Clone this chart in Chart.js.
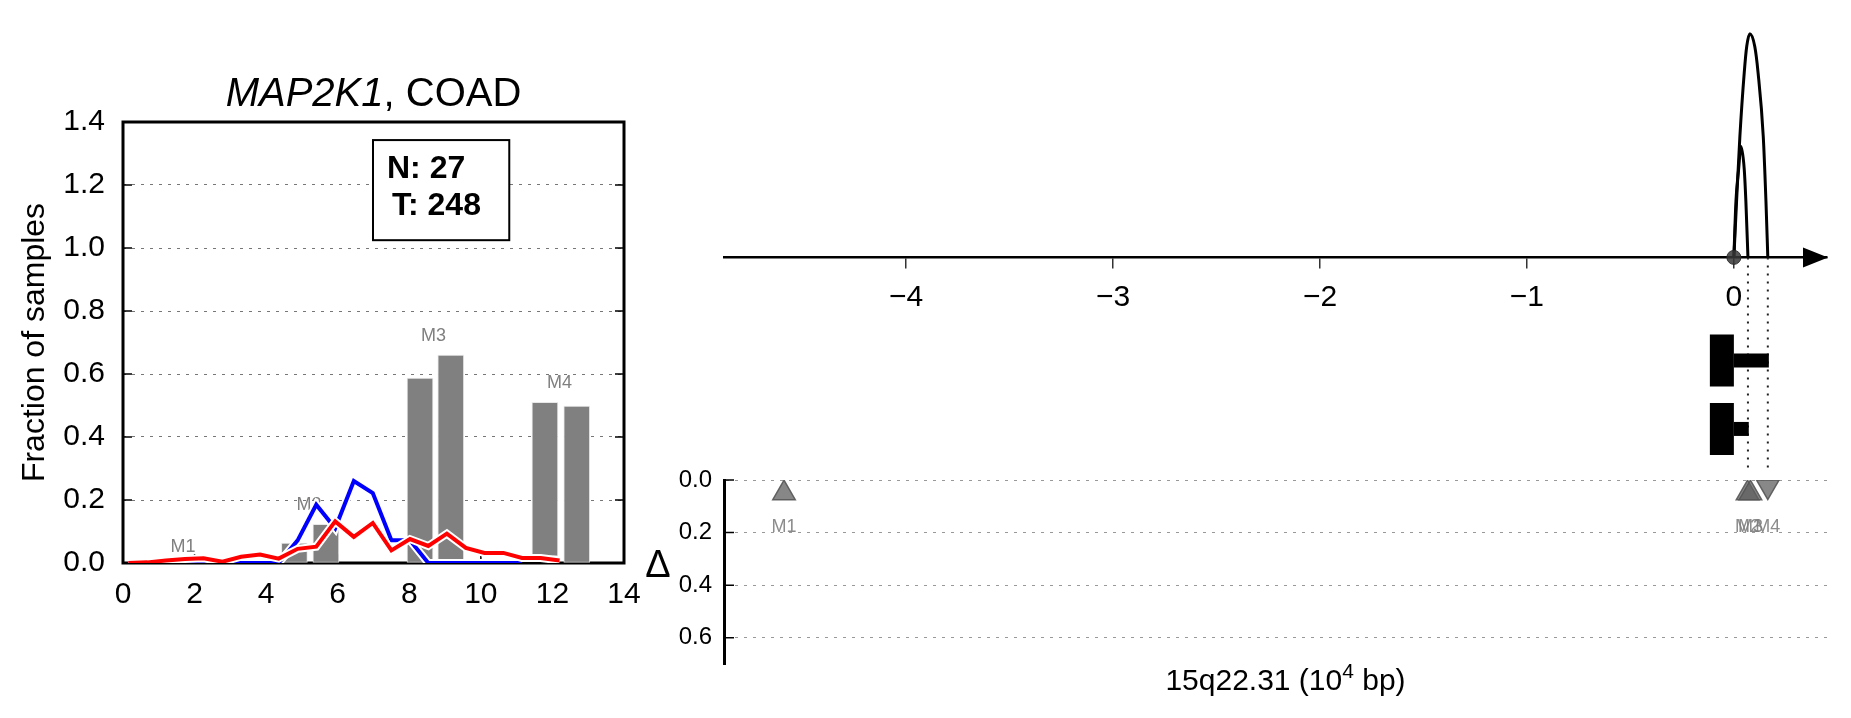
<!DOCTYPE html>
<html>
<head>
<meta charset="utf-8">
<title>MAP2K1, COAD</title>
<script src="https://cdn.jsdelivr.net/npm/chart.js"></script>
<style>
  html, body { margin: 0; padding: 0; background: #fff; }
  #fig { position: relative; width: 1851px; height: 718px; overflow: hidden; background: #fff; }
  canvas { position: absolute; }
  #cFrac { left: 0; top: 0; }
  #cArcs { left: 700px; top: 0; }
  #cDelta { left: 600px; top: 440px; }
</style>
</head>
<body>
<div id="fig">
  <canvas id="cFrac" width="660" height="718"></canvas>
  <canvas id="cArcs" width="1151" height="480"></canvas>
  <canvas id="cDelta" width="1251" height="278"></canvas>
</div>
<script>
// ---------- left panel: fraction of samples ----------
const fracXTicks = [0, 2, 4, 6, 8, 10, 12, 14];
const fracYTicks = [0, 0.2, 0.4, 0.6, 0.8, 1.0, 1.2, 1.4];

// grey bars, two per motif (floating low..high)
const barX    = [4.79, 5.67, 8.30, 9.16, 11.79, 12.68];
const barLow  = [0, 0, 0, 0.01, 0.022, 0];
const barHigh = [0.063, 0.123, 0.587, 0.660, 0.510, 0.498];

const motifNames  = ['M1', 'M2', 'M3', 'M4'];
const motifLabelX = [1.68, 5.2, 8.68, 12.2];
const motifLabelY = [0.05, 0.184, 0.719, 0.572];

// blue and red curves
const curveX = [0.15, 0.68, 1.2, 1.73, 2.25, 2.78, 3.3, 3.83, 4.35, 4.88, 5.4, 5.93,
                6.45, 6.98, 7.5, 8.02, 8.53, 9.05, 9.58, 10.1, 10.63, 11.15, 11.67, 12.2];
const blueY = [0, 0, 0, 0, 0, 0, 0, 0, 0, 0.072, 0.185, 0.11,
               0.26, 0.222, 0.072, 0.072, 0, 0, 0, 0, 0, 0];
const redY  = [0, 0.002, 0.008, 0.013, 0.015, 0.004, 0.02, 0.027, 0.014, 0.045, 0.052, 0.132,
               0.083, 0.127, 0.04, 0.076, 0.054, 0.093, 0.048, 0.032, 0.032, 0.016, 0.016, 0.008];

const nNormal = 27;
const nTumor = 248;

// ---------- right panel: junction arcs, genes, delta ----------
const posTicks   = [-4, -3, -2, -1, 0];
const deltaTicks = [0, 0.2, 0.4, 0.6];

// arcs (height of the tall arc = 1)
const arcOuterX = [0, 0.013, 0.029, 0.050, 0.062, 0.077, 0.101, 0.117, 0.142, 0.155, 0.164];
const arcOuterY = [0, 0.25, 0.539, 0.823, 0.94, 0.997, 0.94, 0.823, 0.539, 0.25, 0];
const arcInnerX = [0, 0.010, 0.023, 0.034, 0.050, 0.058, 0.068];
const arcInnerY = [0, 0.25, 0.394, 0.494, 0.394, 0.25, 0];
const junctionX = [0.068, 0.164];

const geneLane       = [-0.46, -0.765];
const geneBlockStart = [-0.116, -0.116];
const geneBlockEnd   = [0, 0];
const geneTailEnd    = [0.169, 0.072];

const motifPos    = [-4.59, 0.066, 0.080, 0.164];
const motifDelta  = [0.05, 0.05, 0.05, 0.025];
const motifStrand = ['+', '+', '+', '-'];
const motifTextDelta = 0.18;

const FONT = '"Liberation Sans", Arial, Helvetica, sans-serif';
Chart.defaults.font.family = FONT;
Chart.defaults.color = '#000';

function useTicks(list) {
  return scale => { scale.ticks = list.map(v => ({ value: v })); };
}

// ---------- left chart ----------
const fracDecor = {
  id: 'fracDecor',
  beforeDatasetsDraw(chart) {
    const { ctx, chartArea: a, scales: { x, y } } = chart;
    ctx.save();
    // frame
    ctx.lineWidth = 3;
    ctx.strokeStyle = '#000';
    ctx.strokeRect(a.left, a.top, a.right - a.left, a.bottom - a.top);
    // inward ticks
    ctx.lineWidth = 1.5;
    ctx.beginPath();
    fracYTicks.forEach(v => {
      const py = y.getPixelForValue(v);
      ctx.moveTo(a.left, py); ctx.lineTo(a.left + 9, py);
      ctx.moveTo(a.right, py); ctx.lineTo(a.right - 9, py);
    });
    fracXTicks.forEach(v => {
      const px = x.getPixelForValue(v);
      ctx.moveTo(px, a.bottom); ctx.lineTo(px, a.bottom - 9);
    });
    ctx.stroke();
    // motif labels
    ctx.font = '18px ' + FONT;
    ctx.fillStyle = '#808080';
    ctx.textAlign = 'center';
    ctx.textBaseline = 'middle';
    motifNames.forEach((m, i) => {
      ctx.fillText(m, x.getPixelForValue(motifLabelX[i]), y.getPixelForValue(motifLabelY[i]));
    });
    ctx.restore();
  },
  afterDraw(chart) {
    const { ctx, chartArea: a } = chart;
    const w = a.right - a.left, h = a.bottom - a.top;
    ctx.save();
    // title: italic gene name + cancer type
    const cx = (a.left + a.right) / 2, ty = a.top - 27;
    const gene = 'MAP2K1', rest = ', COAD';
    ctx.font = 'italic 40px ' + FONT;
    const w1 = ctx.measureText(gene).width;
    ctx.font = '40px ' + FONT;
    const w2 = ctx.measureText(rest).width;
    let sx = cx - (w1 + w2) / 2;
    ctx.fillStyle = '#000';
    ctx.textBaseline = 'middle';
    ctx.textAlign = 'left';
    ctx.font = 'italic 40px ' + FONT;
    ctx.fillText(gene, sx, ty);
    ctx.font = '40px ' + FONT;
    ctx.fillText(rest, sx + w1, ty);
    // N / T box
    const bx = a.left + 0.499 * w, by = a.top + 0.041 * h;
    const bw = 0.272 * w, bh = 0.227 * h;
    ctx.fillStyle = '#fff';
    ctx.fillRect(bx, by, bw, bh);
    ctx.lineWidth = 2;
    ctx.strokeStyle = '#000';
    ctx.strokeRect(bx, by, bw, bh);
    ctx.fillStyle = '#000';
    ctx.font = 'bold 32px ' + FONT;
    ctx.fillText('N: ' + nNormal, bx + 14, by + 29);
    ctx.fillText('T: ' + nTumor, bx + 19, by + 66);
    ctx.restore();
  }
};

const blueData = blueY.map((v, i) => ({ x: curveX[i], y: v }));
const redData = redY.map((v, i) => ({ x: curveX[i], y: v }));

new Chart(document.getElementById('cFrac'), {
  type: 'line',
  data: {
    datasets: [
      {
        type: 'bar',
        data: barX.map((x, i) => ({ x: x, y: [barLow[i], barHigh[i]] })),
        backgroundColor: '#808080',
        borderColor: 'rgba(230,230,230,0.9)',
        borderWidth: 1,
        borderSkipped: false,
        barThickness: 26,
        order: 5
      },
      { data: blueData, borderColor: '#fff', borderWidth: 8, pointRadius: 0, tension: 0, order: 4 },
      { data: blueData, borderColor: '#0000ff', borderWidth: 4, pointRadius: 0, tension: 0, order: 3 },
      { data: redData, borderColor: '#fff', borderWidth: 8, pointRadius: 0, tension: 0, order: 2 },
      { data: redData, borderColor: '#ff0000', borderWidth: 4, pointRadius: 0, tension: 0, order: 1 }
    ]
  },
  options: {
    responsive: false,
    animation: false,
    devicePixelRatio: 1,
    layout: { padding: { left: 0, top: 122, right: 36, bottom: 95 } },
    plugins: { legend: { display: false }, tooltip: { enabled: false } },
    scales: {
      x: {
        type: 'linear', min: 0, max: 14, offset: false,
        afterBuildTicks: useTicks(fracXTicks),
        afterFit: s => { s.height = 60; },
        grid: { display: false },
        border: { display: false },
        ticks: { font: { size: 30 }, color: '#000', padding: 6, maxRotation: 0, autoSkip: false,
                 callback: v => String(v) }
      },
      y: {
        min: 0, max: 1.4,
        afterBuildTicks: useTicks(fracYTicks),
        afterFit: s => { s.width = 123; },
        grid: { color: '#777', lineWidth: 1, drawTicks: false },
        border: { display: false, dash: [3, 6] },
        ticks: { font: { size: 30 }, color: '#000', padding: 18, callback: v => v.toFixed(1) },
        title: { display: true, text: 'Fraction of samples', font: { size: 32 }, color: '#000',
                 padding: { top: 16, bottom: 0 } }
      }
    }
  },
  plugins: [fracDecor]
});

// ---------- right top chart: arcs & genes ----------
const arrowPlugin = {
  id: 'arrowPlugin',
  afterDatasetsDraw(chart) {
    const { ctx, chartArea: a, scales: { y } } = chart;
    const py = y.getPixelForValue(0);
    const tip = a.right + 1;
    ctx.save();
    ctx.fillStyle = '#000';
    ctx.beginPath();
    ctx.moveTo(tip, py);
    ctx.lineTo(tip - 25, py - 10);
    ctx.lineTo(tip - 25, py + 10);
    ctx.closePath();
    ctx.fill();
    ctx.restore();
  }
};

const arcSets = [
  { xs: arcOuterX, ys: arcOuterY },
  { xs: arcInnerX, ys: arcInnerY }
].map(arc => ({
  data: arc.xs.map((x, i) => ({ x: x, y: arc.ys[i] })),
  borderColor: '#000', borderWidth: 3, pointRadius: 0,
  cubicInterpolationMode: 'monotone', order: 2
}));

const geneSets = [];
geneLane.forEach((lane, i) => {
  geneSets.push({
    data: [{ x: geneBlockStart[i], y: lane }, { x: geneBlockEnd[i], y: lane }],
    borderColor: '#000', borderWidth: 52, borderCapStyle: 'butt', pointRadius: 0, tension: 0, order: 3
  });
  geneSets.push({
    data: [{ x: geneBlockEnd[i], y: lane }, { x: geneTailEnd[i], y: lane }],
    borderColor: '#000', borderWidth: 14, borderCapStyle: 'butt', pointRadius: 0, tension: 0, order: 3
  });
});

const arcYMin = -0.957, arcYMax = 1.112;

const junctionSets = junctionX.map(jx => ({
  data: [{ x: jx, y: 0 }, { x: jx, y: arcYMin }],
  borderColor: '#222', borderWidth: 2, borderDash: [2, 6], borderCapStyle: 'butt',
  pointRadius: 0, tension: 0, order: 4
}));

new Chart(document.getElementById('cArcs'), {
  type: 'line',
  data: {
    datasets: [
      ...junctionSets,
      ...geneSets,
      ...arcSets,
      {
        data: [{ x: 0, y: 0 }], showLine: false,
        pointRadius: 7, pointBackgroundColor: 'rgba(55,55,55,0.85)', pointBorderColor: 'rgba(40,40,40,0.9)',
        pointBorderWidth: 1, order: 1
      }
    ]
  },
  options: {
    responsive: false,
    animation: false,
    devicePixelRatio: 1,
    layout: { padding: { left: 24, right: 24, top: 0, bottom: 0 } },
    plugins: { legend: { display: false }, tooltip: { enabled: false } },
    scales: {
      x: {
        type: 'linear', min: -4.88, max: 0.45, position: { y: 0 },
        afterBuildTicks: useTicks(posTicks),
        grid: { drawOnChartArea: false, drawTicks: true, tickLength: 10, color: '#333', lineWidth: 1.5 },
        border: { display: true, color: '#000', width: 2.5 },
        ticks: { font: { size: 30 }, color: '#000', padding: 12, maxRotation: 0, autoSkip: false,
                 callback: v => (v < 0 ? '\u2212' + Math.abs(v) : String(v)) }
      },
      y: { display: false, min: arcYMin, max: arcYMax }
    }
  },
  plugins: [arrowPlugin]
});

// ---------- right bottom chart: delta ----------
const deltaDecor = {
  id: 'deltaDecor',
  afterDatasetsDraw(chart) {
    const { ctx, chartArea: a, scales: { x, y } } = chart;
    ctx.save();
    // inward ticks
    ctx.strokeStyle = '#000';
    ctx.lineWidth = 1.5;
    ctx.beginPath();
    deltaTicks.forEach(v => {
      const py = y.getPixelForValue(v);
      ctx.moveTo(a.left, py); ctx.lineTo(a.left + 10, py);
    });
    ctx.stroke();
    // motif labels
    ctx.font = '18px ' + FONT;
    ctx.fillStyle = 'rgba(128,128,128,0.9)';
    ctx.textAlign = 'center';
    ctx.textBaseline = 'middle';
    motifNames.forEach((m, i) => {
      ctx.fillText(m, x.getPixelForValue(motifPos[i]), y.getPixelForValue(motifTextDelta));
    });
    // axis label (upright delta)
    ctx.fillStyle = '#000';
    ctx.font = '38px ' + FONT;
    ctx.fillText('\u0394', a.left - 66, y.getPixelForValue(0.33));
    // x label with superscript
    const base = '15q22.31 (10', sup = '4', tail = ' bp)';
    ctx.font = '30px ' + FONT;
    const wb = ctx.measureText(base).width, wt = ctx.measureText(tail).width;
    ctx.font = '21px ' + FONT;
    const ws = ctx.measureText(sup).width;
    let sx = (a.left + a.right) / 2 + 10 - (wb + ws + wt) / 2;
    const ly = a.bottom + 18;
    ctx.textAlign = 'left';
    ctx.font = '30px ' + FONT;
    ctx.fillText(base, sx, ly);
    ctx.font = '21px ' + FONT;
    ctx.fillText(sup, sx + wb, ly - 10);
    ctx.font = '30px ' + FONT;
    ctx.fillText(tail, sx + wb + ws, ly);
    ctx.restore();
  }
};

new Chart(document.getElementById('cDelta'), {
  type: 'scatter',
  data: {
    datasets: [{
      data: motifPos.map((p, i) => ({ x: p, y: motifDelta[i] })),
      pointStyle: 'triangle',
      pointRadius: 13,
      pointRotation: c => (motifStrand[c.dataIndex] === '-' ? 180 : 0),
      pointBackgroundColor: c => (motifStrand[c.dataIndex] === '-' ? 'rgba(115,115,115,0.85)' : 'rgba(95,95,95,0.75)'),
      pointBorderColor: 'rgba(85,85,85,0.9)',
      pointBorderWidth: 1.5
    }]
  },
  options: {
    responsive: false,
    animation: false,
    devicePixelRatio: 1,
    layout: { padding: { left: 0, top: 40, right: 24, bottom: 54 } },
    plugins: { legend: { display: false }, tooltip: { enabled: false } },
    scales: {
      x: { type: 'linear', min: -4.88, max: 0.45, display: false },
      y: {
        min: 0, max: 0.7, reverse: true,
        afterBuildTicks: useTicks(deltaTicks),
        afterFit: s => { s.width = 124; },
        grid: { color: '#999', lineWidth: 1, drawTicks: false },
        border: { display: true, color: '#000', width: 3, dash: [3, 6] },
        ticks: { font: { size: 24 }, color: '#000', padding: 12, callback: v => v.toFixed(1) }
      }
    }
  },
  plugins: [deltaDecor]
});
</script>
</body>
</html>
